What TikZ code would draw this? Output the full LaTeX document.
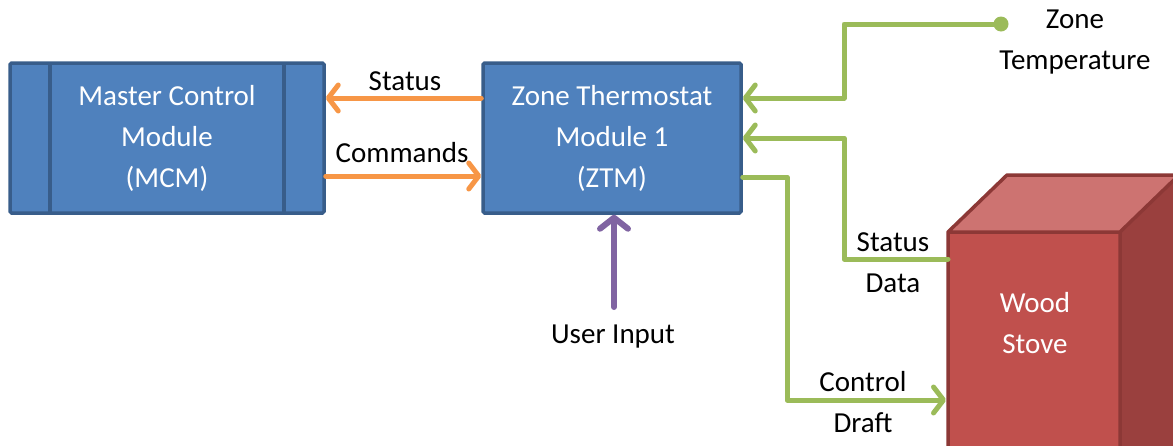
\documentclass[tikz,border=0pt]{standalone}
\usepackage{fontspec}
\setmainfont{Carlito}
\usetikzlibrary{arrows.meta}
\definecolor{boxfill}{HTML}{4F81BD}
\definecolor{boxline}{HTML}{385D8A}
\definecolor{orangeA}{HTML}{F79646}
\definecolor{greenA}{HTML}{9BBB59}
\definecolor{purpleA}{HTML}{8064A2}
\definecolor{stoveFront}{HTML}{C0504D}
\definecolor{stoveTop}{HTML}{CD7371}
\definecolor{stoveSide}{HTML}{9A403E}
\definecolor{stoveLine}{HTML}{8C3836}
\begin{document}
\begin{tikzpicture}[x=1pt,y=-1pt,
  every node/.style={font=\fontsize{29}{41}\selectfont, align=center, inner sep=0pt},
  blockbox/.style={draw=boxline, fill=boxfill, line width=3.5pt, rounded corners=1.5pt, text=white},
  conn/.style={line width=5pt, line cap=round, line join=round, arrows={-Straight Barb[length=10pt,width=26pt,line width=5pt, round]}},
  bigconn/.style={line width=6pt, line cap=round, line join=round, arrows={-Straight Barb[length=11pt,width=28pt,line width=6pt, round]}},
  lbl/.style={text=black}]
\useasboundingbox (0,0) rectangle (1173,445);
% boxes
\node[blockbox, minimum width=314pt, minimum height=150pt] (mcm) at (167,138) {};
\draw[boxline, line width=3.5pt] (50,63) -- (50,213) (284,63) -- (284,213);
\node[text=white] at (167,138) {Master Control\\Module\\(MCM)};
\node[blockbox, minimum width=258pt, minimum height=150pt] (ztm) at (612,138) {Zone Thermostat\\Module 1\\(ZTM)};
% stove cube
\coordinate (sfl) at (948,232);
\coordinate (sfr) at (1120,232);
\coordinate (sbl) at (1007,175);
\coordinate (sbr) at (1179,175);
\fill[stoveFront] (948,232) rectangle (1120,450);
\fill[stoveTop] (sfl) -- (sbl) -- (sbr) -- (sfr) -- cycle;
\fill[stoveSide] (sfr) -- (sbr) -- (1179,450) -- (1120,450) -- cycle;
\draw[stoveLine, line width=3.5pt, line join=round] (948,450) -- (sfl) -- (sbl) -- (sbr) (sfl) -- (sfr) -- (1120,450) (sfr) -- (sbr);
\node[text=white] (stove) at (1035,323) {Wood\\Stove};
\coordinate (stoveW1) at (948,259);
\coordinate (stoveW2) at (946,400);
% orange
\draw[conn, orangeA] (ztm.west |- 0,98) -- (mcm.east |- 0,98);
\draw[conn, orangeA] (mcm.east |- 0,176) -- (ztm.west |- 0,176);
\node[lbl] at (405,81) {Status};
\node[lbl] at (402,153) {Commands};
% green
\coordinate (tempdot) at (1001,24);
\fill[greenA] (tempdot) circle (7.5pt);
\draw[conn, greenA] (tempdot) -- (844,24) -- (844,98) -- (ztm.east |- 0,98);
\draw[conn, greenA] (stoveW1) -- (844,259) -- (844,138) -- (ztm.east |- 0,138);
\draw[conn, greenA] (ztm.east |- 0,177) -- (787,177) -- (787,400) -- (stoveW2);
\node[lbl] at (1075,42) {Zone\\Temperature};
\node[lbl] at (893,263) {Status\\Data};
\node[lbl] at (863,402) {Control\\Draft};
% purple
\coordinate (ui) at (614,307);
\draw[bigconn, purpleA] (ui) -- (ztm.south -| ui);
\node[lbl] at (613,337) {User Input};
\end{tikzpicture}
\end{document}
